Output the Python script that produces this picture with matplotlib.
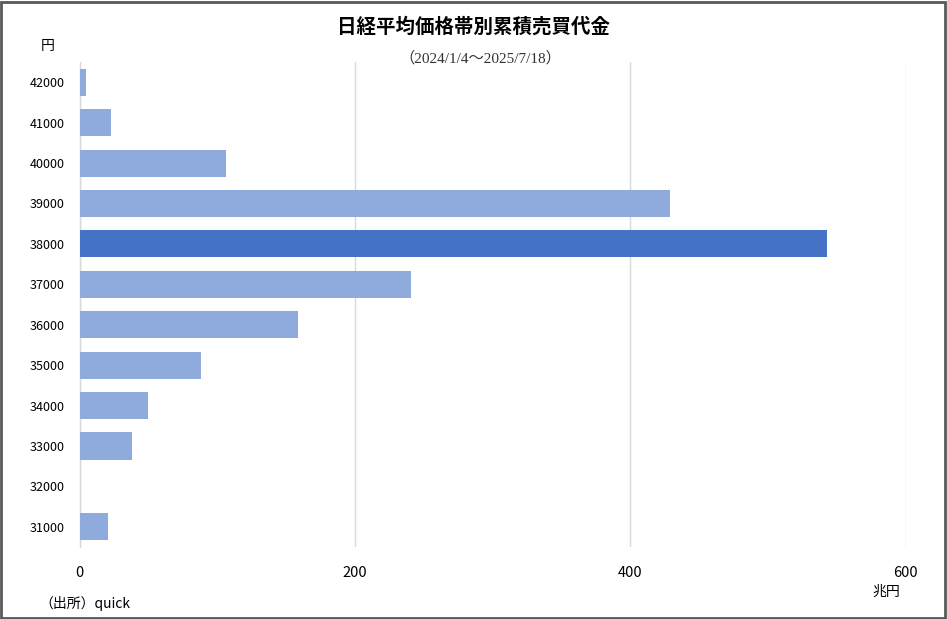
import matplotlib.pyplot as plt
from matplotlib.patches import Rectangle

plt.rcParams['font.family'] = ['Noto Sans CJK JP', 'DejaVu Sans']

# price bands (yen) and cumulative trading value (trillion yen)
price_bands = ['42000', '41000', '40000', '39000', '38000', '37000',
               '36000', '35000', '34000', '33000', '32000', '31000']
trading_value = [5, 23, 106, 429, 543, 241, 159, 88, 50, 38, 0, 21]
highlight = '38000'

light_col = '#8FAADC'
dark_col = '#4472C4'

fig = plt.figure(figsize=(9.47, 6.19), dpi=100)
ax = fig.add_axes([0.084, 0.1163, 0.8724, 0.7835])

ypos = list(range(len(price_bands)))
colors = [dark_col if p == highlight else light_col for p in price_bands]
ax.barh(ypos, trading_value, height=0.67, color=colors, zorder=3)

ax.set_xlim(0, 600)
ax.set_ylim(len(price_bands) - 0.5, -0.5)
ax.set_xticks([0, 200, 400, 600])
ax.set_yticks(ypos)
ax.set_yticklabels(price_bands, fontsize=9)
ax.tick_params(axis='x', labelsize=10.5, length=0, pad=14)
ax.tick_params(axis='y', length=0, pad=11)
ax.grid(axis='x', color='#D9D9D9', linewidth=1, zorder=0)
for s in ['top', 'right', 'bottom']:
    ax.spines[s].set_visible(False)
ax.spines['left'].set_color('#D9D9D9')
ax.spines['left'].set_linewidth(1)

fig.text(0.5, 0.956, '日経平均価格帯別累積売買代金', ha='center', va='center',
         fontsize=14, fontweight='bold')
fig.text(0.507, 0.906, '（2024/1/4～2025/7/18）', ha='center', va='center',
         fontsize=11, family=['Liberation Serif', 'Noto Sans CJK JP'], color='#333333')
fig.text(0.05, 0.925, '円', ha='center', va='center', fontsize=10)
fig.text(0.936, 0.044, '兆円', ha='center', va='center', fontsize=10)
fig.text(0.042, 0.025, '（出所）quick', ha='left', va='center', fontsize=10)

fig.patches.append(Rectangle((0.001, 0.002), 0.997, 0.995, transform=fig.transFigure,
                             fill=False, edgecolor='#595959', linewidth=2))

fig.savefig('out.png', dpi=100)
